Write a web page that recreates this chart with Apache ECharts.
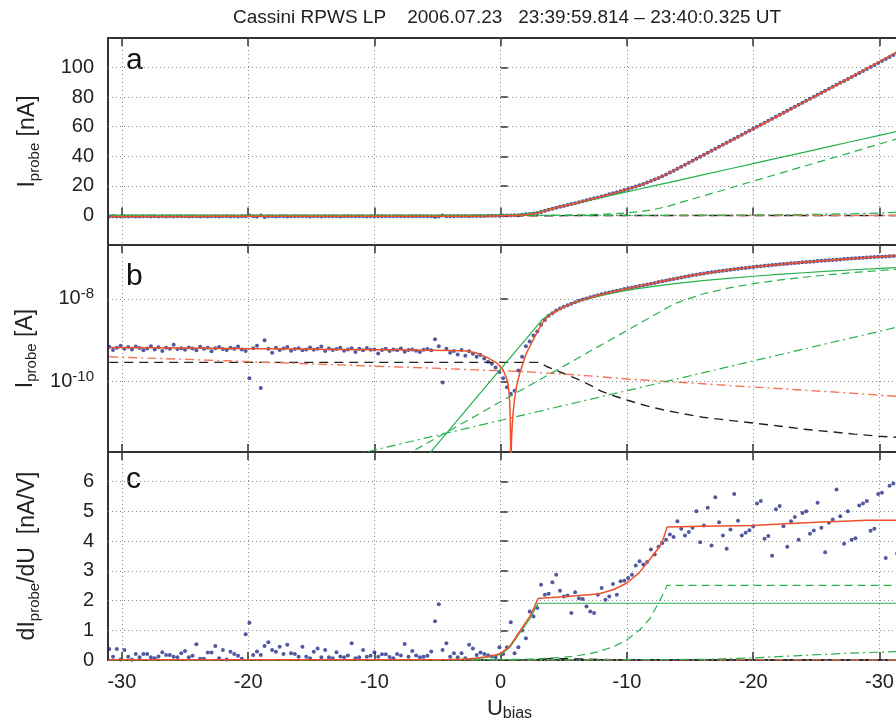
<!DOCTYPE html>
<html><head><meta charset="utf-8">
<script src="https://cdn.jsdelivr.net/npm/echarts@6/dist/echarts.min.js"></script>
<style>html,body{margin:0;padding:0;background:#fff}#c{width:896px;height:725px}</style>
</head><body><div id="c"></div>
<script>
// ---- measured sweep points (bias voltage, V) ----
const dotBias = [
-31.0,-30.7,-30.4,-30.1,-29.8,-29.5,-29.2,-28.9,-28.6,-28.3,
-28.0,-27.7,-27.4,-27.1,-26.8,-26.5,-26.2,-25.9,-25.6,-25.3,
-25.0,-24.7,-24.4,-24.1,-23.8,-23.5,-23.2,-22.9,-22.6,-22.3,
-22.0,-21.7,-21.4,-21.1,-20.8,-20.5,-20.2,-19.9,-19.6,-19.3,
-19.0,-18.7,-18.4,-18.1,-17.8,-17.5,-17.2,-16.9,-16.6,-16.3,
-16.0,-15.7,-15.4,-15.1,-14.8,-14.5,-14.2,-13.9,-13.6,-13.3,
-13.0,-12.7,-12.4,-12.1,-11.8,-11.5,-11.2,-10.9,-10.6,-10.3,
-10.0,-9.7,-9.4,-9.1,-8.8,-8.5,-8.2,-7.9,-7.6,-7.3,
-7.0,-6.7,-6.4,-6.1,-5.8,-5.5,-5.2,-4.9,-4.6,-4.3,
-4.0,-3.7,-3.4,-3.1,-2.8,-2.5,-2.2,-1.9,-1.6,-1.3,
-1.0,-0.7,-0.4,-0.1,0.2,0.5,0.8,1.1,1.4,1.7,
2.0,2.3,2.6,2.9,3.2,3.5,3.8,4.1,4.4,4.7,
5.0,5.3,5.6,5.9,6.2,6.5,6.8,7.1,7.4,7.7,
8.0,8.3,8.6,8.9,9.2,9.5,9.8,10.1,10.4,10.7,
11.0,11.3,11.6,11.9,12.2,12.5,12.8,13.1,13.4,13.7,
14.0,14.3,14.6,14.9,15.2,15.5,15.8,16.1,16.4,16.7,
17.0,17.3,17.6,17.9,18.2,18.5,18.8,19.1,19.4,19.7,
20.0,20.3,20.6,20.9,21.2,21.5,21.8,22.1,22.4,22.7,
23.0,23.3,23.6,23.9,24.2,24.5,24.8,25.1,25.4,25.7,
26.0,26.3,26.6,26.9,27.2,27.5,27.8,28.1,28.4,28.7,
29.0,29.3,29.6,29.9,30.2,30.5,30.8,31.1,31.4];
// measured probe current, nA (signed)
const probeCurrent = [
-0.70,-0.58,-0.66,-0.74,-0.62,-0.69,-0.60,-0.71,-0.65,-0.57,
-0.63,-0.72,-0.60,-0.68,-0.55,-0.66,-0.62,-0.78,-0.61,-0.64,
-0.59,-0.67,-0.63,-0.57,-0.70,-0.62,-0.66,-0.54,-0.64,-0.69,
-0.61,-0.58,-0.66,-0.62,-0.71,-0.60,-0.55,-0.12,-0.64,-0.74,
-0.07,-1.00,-0.62,-0.50,-0.66,-0.58,-0.63,-0.69,-0.56,-0.61,
-0.64,-0.57,-0.60,-0.67,-0.59,-0.62,-0.71,-0.55,-0.63,-0.58,
-0.61,-0.66,-0.56,-0.60,-0.64,-0.52,-0.62,-0.57,-0.65,-0.59,
-0.60,-0.48,-0.58,-0.62,-0.55,-0.60,-0.57,-0.63,-0.53,-0.58,
-0.60,-0.56,-0.52,-0.59,-0.61,-0.57,-1.05,-0.72,-0.095,-0.62,
-0.50,-0.55,-0.45,-0.58,-0.42,-0.54,-0.47,-0.40,-0.44,-0.36,
-0.30,-0.27,-0.22,-0.17,-0.12,-0.073,-0.051,0.06,0.186,0.40,
0.72,0.93,1.30,1.62,2.35,3.10,3.90,4.50,5.20,5.85,
6.40,7.00,7.65,8.30,8.95,9.60,10.25,10.90,11.55,12.20,
12.85,13.55,14.25,14.95,15.65,16.40,17.15,17.90,18.70,19.55,
20.40,21.30,22.25,23.25,24.25,25.35,26.50,27.70,28.95,30.25,
31.60,32.95,34.30,35.65,37.00,38.35,39.70,41.05,42.40,43.75,
45.10,46.45,47.80,49.15,50.50,51.85,53.20,54.55,55.90,57.25,
58.60,59.95,61.30,62.65,64.00,65.35,66.70,68.05,69.40,70.75,
72.10,73.45,74.80,76.15,77.50,78.85,80.20,81.55,82.90,84.25,
85.60,86.95,88.30,89.65,91.00,92.35,93.70,95.05,96.40,97.75,
99.10,100.45,101.80,103.15,104.50,105.85,107.20,108.55,109.90];
// measured dI/dU, nA/V
const derivDots = [
0.37,0.11,0.37,0.02,0.34,0.11,0.01,0.20,0.09,0.20,
0.20,0.09,0.06,0.12,0.26,0.17,0.17,0.11,0.09,0.23,
0.30,0.09,0.14,0.53,0.04,0.04,0.25,0.25,0.47,0.06,
0.34,0.02,0.28,0.20,0.14,0.04,0.87,1.25,0.17,0.29,
0.17,0.47,0.60,0.34,0.28,0.45,0.20,0.51,0.23,0.20,
0.11,0.45,0.11,0.06,0.28,0.39,0.09,0.34,0.09,0.06,
0.26,0.12,0.09,0.15,0.56,0.06,0.09,0.34,0.11,0.14,
0.26,0.11,0.19,0.19,0.10,0.06,0.20,0.15,0.54,0.11,
0.30,0.15,0.09,0.11,0.14,0.29,1.30,1.88,0.34,0.56,
0.11,0.23,0.09,0.23,0.06,0.51,0.39,0.17,0.25,0.20,
0.16,0.12,0.09,0.43,0.20,0.43,1.27,0.23,0.43,0.99,
0.73,1.63,1.46,1.75,2.53,2.20,2.23,2.62,2.87,2.33,
2.14,2.17,1.58,2.28,2.08,2.05,1.80,1.63,1.58,2.20,
2.42,2.03,2.14,2.56,2.20,2.65,2.67,2.76,2.87,3.18,
3.32,3.21,3.30,3.72,3.55,3.81,3.94,4.05,4.22,4.14,
4.67,4.42,4.19,4.31,4.45,5.01,3.96,4.53,5.12,3.85,
5.48,4.64,4.19,3.74,4.39,5.59,4.69,4.19,4.28,4.37,
4.50,5.27,5.35,4.08,4.17,3.51,5.07,5.18,4.50,3.81,
4.67,4.81,4.05,4.95,5.01,4.25,4.36,5.29,4.45,3.63,
4.62,4.73,5.74,4.84,3.91,5.01,4.05,4.10,5.20,5.27,
5.35,4.35,4.42,5.59,5.63,3.43,5.86,5.94,3.58];

// ---- fitted current model components, nA ----
const fitBias = [-31,-28,-25,-22,-19,-16,-13,-10,
 -8,-6,-4,-2.7,-2,-1.1,-0.3,
 0.2,0.45,0.58,0.66,0.72,0.76,0.79,0.80,0.82,0.86,0.92,0.98,
 1.1,1.24,1.5,2,2.5,3,3.3,3.6,4,
 5,6,7,8,9,10,11,12,13,13.2,14,
 16,18,20,22,24,26,28,30,31.4];
const fitTotal = [-0.667,-0.655,-0.645,-0.635,-0.625,-0.61,-0.60,-0.59,
 -0.585,-0.575,-0.565,-0.548,-0.50,-0.39,-0.28,
 -0.19,-0.125,-0.088,-0.055,-0.03,-0.013,-0.003,0.0002,0.0015,0.004,0.009,0.017,
 0.038,0.073,0.155,0.46,0.92,1.8,2.6,3.4,4.3,
 6.35,8.43,10.56,12.76,15.08,17.58,20.34,23.51,27.30,28.14,31.69,
 40.57,49.46,58.48,67.43,76.43,85.50,94.65,104.04,110.64];
const fitGreenSolid = [1e-12,1.5e-11,1.8e-10,2.2e-9,2.7e-8,3.3e-7,4.0e-6,4.9e-5,
 0.00026,0.00136,0.0072,0.0214,0.0382,0.0807,0.158,
 0.238,0.294,0.327,0.35,0.367,0.38,0.39,0.393,0.40,0.413,0.434,0.456,
 0.504,0.567,0.703,1.067,1.618,2.455,3.15,3.72,4.49,
 6.4,8.31,10.22,12.13,14.04,15.95,17.86,19.77,21.68,22.06,23.59,
 27.41,31.23,35.05,38.87,42.69,46.51,50.33,54.15,56.82];
const fitGreenDashed = [1.6e-7,5e-7,1.6e-6,5.4e-6,1.8e-5,5.8e-5,1.9e-4,6.2e-4,
 0.00138,0.00304,0.00671,0.01124,0.01483,0.0212,0.0291,
 0.0354,0.0391,0.0411,0.0424,0.0434,0.0441,0.0446,0.0448,0.0451,0.0459,0.0469,0.048,
 0.0506,0.0535,0.0593,0.0723,0.0881,0.1074,0.121,0.136,0.16,
 0.237,0.352,0.524,0.778,1.156,1.72,2.55,3.79,5.64,6.1,8.1,
 13.1,18.1,23.2,28.2,33.2,38.2,43.2,48.3,51.8];
const fitGreenDashDot = [6.9e-5,0.000115,0.000188,0.00031,0.000505,0.00083,0.00136,0.00223,
 0.0031,0.00431,0.006,0.00743,0.00835,0.00969,0.01106,
 0.012,0.0125,0.0128,0.0129,0.013,0.0131,0.0131,0.0131,0.0132,0.0133,0.0134,0.0135,
 0.0139,0.0143,0.0149,0.0162,0.0175,0.019,0.02,0.021,0.0225,
 0.0265,0.0313,0.0369,0.0435,0.0513,0.0605,0.0714,0.0842,0.0993,0.1026,0.117,
 0.163,0.227,0.316,0.44,0.611,0.851,1.18,1.64,2.07];
const fitBlackDashed = [-0.291,-0.291,-0.291,-0.291,-0.291,-0.291,-0.291,-0.291,
 -0.291,-0.291,-0.291,-0.291,-0.291,-0.291,-0.291,
 -0.291,-0.291,-0.291,-0.291,-0.291,-0.291,-0.291,-0.291,-0.291,-0.291,-0.291,-0.291,
 -0.291,-0.291,-0.291,-0.291,-0.291,-0.291,-0.265,-0.235,-0.21,
 -0.157,-0.118,-0.085,-0.058,-0.045,-0.036,-0.029,-0.024,-0.0205,-0.0198,-0.0178,
 -0.0138,-0.0117,-0.0100,-0.0085,-0.0071,-0.0062,-0.0054,-0.0048,-0.0045];
const fitRedDashDot = [-0.398,-0.37,-0.347,-0.32,-0.295,-0.275,-0.255,-0.236,
 -0.226,-0.215,-0.203,-0.196,-0.192,-0.188,-0.185,
 -0.183,-0.182,-0.181,-0.181,-0.180,-0.180,-0.180,-0.180,-0.180,-0.179,-0.179,-0.179,
 -0.178,-0.177,-0.176,-0.173,-0.17,-0.166,-0.164,-0.162,-0.16,
 -0.152,-0.145,-0.138,-0.13,-0.123,-0.116,-0.111,-0.106,-0.101,-0.1,-0.097,
 -0.089,-0.081,-0.074,-0.068,-0.062,-0.057,-0.052,-0.047,-0.044];

// ---- fitted derivative components, nA/V ----
const derivFitBias = [-31,-10,-4,-3.25,-2,-1.13,-0.5,0,
 0.7,1.5,2.0,2.3,2.6,2.96,
 4,5,6,7,7.84,
 9,10,11,11.8,12.2,12.6,12.9,13.18,
 16,20,23.7,27.6,29,31.4];
const derivTotal = [0.005,0.008,0.015,0.02,0.06,0.11,0.16,0.22,
 0.45,0.96,1.27,1.46,1.72,2.07,
 2.10,2.13,2.16,2.20,2.23,
 2.38,2.59,2.95,3.38,3.60,3.83,4.10,4.48,
 4.50,4.53,4.61,4.68,4.70,4.70];
const derivGreenSolid = [0,0.002,0.01,0.015,0.045,0.09,0.14,0.19,
 0.41,0.9,1.2,1.38,1.62,1.91,
 1.91,1.91,1.91,1.91,1.91,
 1.91,1.91,1.91,1.91,1.91,1.91,1.91,1.91,
 1.91,1.91,1.91,1.91,1.91,1.91];
const derivGreenDashed = [0.0005,0.002,0.006,0.007,0.009,0.011,0.012,0.013,
 0.018,0.024,0.029,0.033,0.038,0.044,
 0.063,0.094,0.14,0.208,0.29,
 0.459,0.68,1.01,1.38,1.68,2.0,2.25,2.51,
 2.51,2.51,2.51,2.51,2.51,2.51];
const derivGreenDashDot = [0,0,0,0,0.001,0.001,0.002,0.002,
 0.002,0.003,0.003,0.003,0.003,0.004,
 0.004,0.005,0.005,0.006,0.007,
 0.008,0.01,0.011,0.012,0.013,0.014,0.015,0.015,
 0.02,0.07,0.15,0.23,0.25,0.28];
const derivBlackDashed = [0,0,0,0,0,0,0,0,
 0,0,0,0,0,0.01,
 0.05,0.045,0.035,0.028,0.02,
 0.012,0.008,0.006,0.005,0.004,0.004,0.004,0.004,
 0.002,0.001,0.001,0.001,0,0];
const derivRedDashDot = [0.008,0.006,0.006,0.005,0.005,0.005,0.005,0.004,
 0.004,0.004,0.004,0.004,0.004,0.004,
 0.004,0.004,0.004,0.004,0.004,
 0.004,0.004,0.003,0.003,0.003,0.003,0.003,0.003,
 0.003,0.003,0.003,0.002,0.002,0.002];

// ---- tick labels ----
const xTickValues = [-30,-20,-10,0,10,20,30];
const xTickLabels = ['-30','-20','-10','0','-10','-20','-30'];
const linTicks = [0,20,40,60,80,100];
const logTicks = [-10,-8];
const derivTicks = [0,1,2,3,4,5,6];

const FONT = '"Liberation Sans", Arial, sans-serif';
const C_DOT = '#24318a', C_RED = '#f0512a', C_RED2 = '#f37556', C_GREEN = '#25b14c', C_BLACK = '#222';
const toLog = v => Math.log10(Math.abs(v)) - 9;
const ident = v => v;
const pairs = (xs, ys, f) => xs.map((x, i) => [x, (f || ident)(ys[i])]);

const grids = [
  {left: 108, top: 38, width: 803, height: 207},
  {left: 108, top: 245, width: 803, height: 207},
  {left: 108, top: 452, width: 803, height: 208}
].map(g => Object.assign(g, {show: true, borderColor: '#333', borderWidth: 2, backgroundColor: 'transparent',
  containLabel: false, outerBoundsMode: 'none'}));

const splitStyle = {show: true, lineStyle: {color: '#8a8a8a', width: 1, type: [1, 3]}};
const xAxes = [];
for (let g = 0; g < 3; g++) {
  xAxes.push({
    type: 'value', gridIndex: g, min: -31.1, max: 32.5, position: 'bottom',
    axisLine: {show: false},
    axisTick: {show: true, inside: true, length: 8, customValues: xTickValues, lineStyle: {color: '#333', width: 1.5}},
    axisLabel: {show: g === 2, customValues: xTickValues, margin: 12, fontSize: 20, color: '#222', fontFamily: FONT,
      formatter: v => xTickLabels[xTickValues.indexOf(v)]},
    splitLine: splitStyle,
    name: g === 2 ? '{m|U}{s|bias}' : '', nameLocation: 'middle', nameGap: 36,
    nameTextStyle: {color: '#222', rich: {
      m: {fontSize: 22, lineHeight: 26, fontFamily: FONT, color: '#222'},
      s: {fontSize: 16, lineHeight: 14, verticalAlign: 'bottom', fontFamily: FONT, color: '#222'}}}
  });
}
for (let g = 0; g < 3; g++) {
  xAxes.push({
    type: 'value', gridIndex: g, min: -31.1, max: 32.5, position: 'top',
    axisLine: {show: false},
    axisTick: {show: true, inside: true, length: 8, customValues: xTickValues, lineStyle: {color: '#333', width: 1.5}},
    axisLabel: {show: false}, splitLine: {show: false}
  });
}
const nameRich = {
  m: {fontSize: 23, lineHeight: 28, fontFamily: FONT, color: '#222'},
  s: {fontSize: 15, lineHeight: 18, verticalAlign: 'bottom', fontFamily: FONT, color: '#222'}
};
const yBase = (g, min, max, ticks, fmt, name, rich) => ({
  type: 'value', gridIndex: g, min, max,
  axisLine: {show: false},
  axisTick: {show: true, inside: true, length: 7, customValues: ticks, lineStyle: {color: '#333', width: 1.5}},
  axisLabel: {customValues: ticks, formatter: fmt, margin: 14, fontSize: 20, color: '#222', fontFamily: FONT, rich},
  splitLine: splitStyle,
  name, nameLocation: 'middle', nameRotate: 90, nameGap: 66,
  nameTextStyle: {rich: nameRich}
});
const yAxes = [
  yBase(0, -20, 120, linTicks, v => String(v), '{m|I}{s|probe}{m| [nA]}'),
  yBase(1, -11.7, -6.7, logTicks, v => '{b|10}{p|' + v + '}', '{m|I}{s|probe}{m| [A]}',
    {b: {fontSize: 20, lineHeight: 24, fontFamily: FONT, color: '#222'},
     p: {fontSize: 15, lineHeight: 10, verticalAlign: 'top', fontFamily: FONT, color: '#222'}}),
  yBase(2, 0, 7, derivTicks, v => String(v), '{m|dI}{s|probe}{m|/dU  [nA/V]}')
];

function line(g, xs, ys, color, type, width, f, z) {
  return {type: 'line', xAxisIndex: g, yAxisIndex: g, data: pairs(xs, ys, f),
    showSymbol: false, symbol: 'none', clip: true, silent: true, z: z || 3,
    lineStyle: {color, width, type}};
}
function dots(g, xs, ys, f) {
  return {type: 'scatter', xAxisIndex: g, yAxisIndex: g, data: pairs(xs, ys, f),
    symbol: 'circle', symbolSize: 4, itemStyle: {color: C_DOT}, clip: true, silent: true, z: 2};
}
const DASH = [9, 6], GDASH = [8, 5], DASHDOT = [9, 4, 2, 4];
const series = [];
[[0, null], [1, toLog]].forEach(([g, f]) => {
  series.push(dots(g, dotBias, probeCurrent, f));
  series.push(line(g, fitBias, fitBlackDashed, C_BLACK, DASH, 1.4, f));
  series.push(line(g, fitBias, fitRedDashDot, C_RED2, DASHDOT, 1.4, f));
  series.push(line(g, fitBias, fitGreenDashDot, C_GREEN, DASHDOT, 1.2, f));
  series.push(line(g, fitBias, fitGreenDashed, C_GREEN, GDASH, 1.2, f));
  series.push(line(g, fitBias, fitGreenSolid, C_GREEN, 'solid', 1.2, f));
  series.push(line(g, fitBias, fitTotal, C_RED, 'solid', 1.5, f, 4));
});
series.push(dots(2, dotBias, derivDots));
series.push(line(2, derivFitBias, derivBlackDashed, C_BLACK, DASH, 1.4));
series.push(line(2, derivFitBias, derivRedDashDot, C_RED2, DASHDOT, 1.4));
series.push(line(2, derivFitBias, derivGreenDashDot, C_GREEN, DASHDOT, 1.2));
series.push(line(2, derivFitBias, derivGreenDashed, C_GREEN, GDASH, 1.2));
series.push(line(2, derivFitBias, derivGreenSolid, C_GREEN, 'solid', 1.2));
series.push(line(2, derivFitBias, derivTotal, C_RED, 'solid', 1.5, null, 4));

const chart = echarts.init(document.getElementById('c'), null, {renderer: 'canvas'});
chart.setOption({
  animation: false,
  backgroundColor: '#fff',
  textStyle: {fontFamily: FONT},
  title: {text: 'Cassini RPWS LP    2006.07.23   23:39:59.814 \u2013 23:40:0.325 UT', left: 228, top: 3,
    textStyle: {fontSize: 19, fontWeight: 'normal', color: '#222', fontFamily: FONT}},
  grid: grids, xAxis: xAxes, yAxis: yAxes, series,
  graphic: [
    {type: 'text', left: 126, top: 46, style: {text: 'a', font: '30px "Liberation Sans", Arial', fill: '#111'}},
    {type: 'text', left: 126, top: 262, style: {text: 'b', font: '30px "Liberation Sans", Arial', fill: '#111'}},
    {type: 'text', left: 126, top: 465, style: {text: 'c', font: '30px "Liberation Sans", Arial', fill: '#111'}}
  ]
});
</script></body></html>
